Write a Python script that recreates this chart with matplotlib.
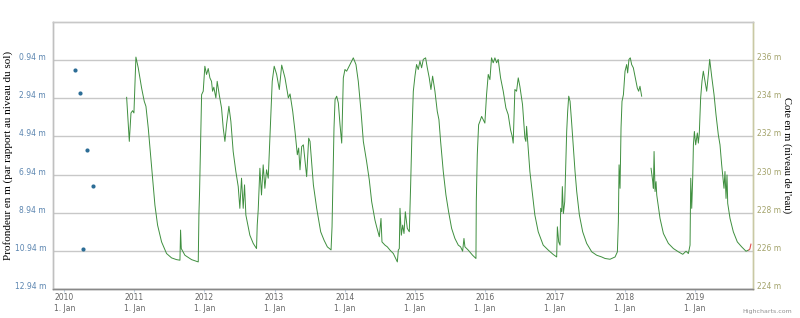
import numpy as np
import pandas as pd
import matplotlib
matplotlib.use('Agg')
from matplotlib import pyplot as plt
import matplotlib.dates as mdates
from datetime import datetime, timedelta

# points de profondeur (axe gauche), date en annee decimale
prof_t = [2010.148, 2010.224, 2010.320, 2010.405, 2010.262]
prof_v = [1.48, 2.67, 5.63, 7.52, 10.84]

# cote du niveau d'eau (axe droit), nan = trou dans la serie
cote_t = [2010.890, 2010.928, 2010.952, 2010.975, 2010.994, 2011.023, 2011.056, 2011.104, 2011.142, 2011.166,
          2011.199, 2011.232, 2011.261, 2011.294, 2011.332, 2011.389, 2011.460, 2011.532, 2011.603, 2011.651,
          2011.660, 2011.670, 2011.722, 2011.817, 2011.912, 2011.922, 2011.931, 2011.945, 2011.960, 2011.983,
          2012.007, 2012.031, 2012.055, 2012.079, 2012.102, 2012.117, 2012.135, 2012.164, 2012.183, 2012.212,
          2012.245, 2012.269, 2012.293, 2012.316, 2012.350, 2012.378, 2012.411, 2012.449, 2012.483, 2012.506,
          2012.530, 2012.554, 2012.573, 2012.592,
          2012.649, 2012.697, 2012.744, 2012.754, 2012.768, 2012.792, 2012.815, 2012.839, 2012.863, 2012.887,
          2012.911, 2012.934, 2012.968, 2012.996, 2013.029, 2013.067, 2013.101, 2013.148, 2013.196, 2013.220,
          2013.258, 2013.291, 2013.324, 2013.343, 2013.362, 2013.386, 2013.410, 2013.434, 2013.457, 2013.486,
          2013.505, 2013.553, 2013.600, 2013.657, 2013.705, 2013.752, 2013.805, 2013.819, 2013.833, 2013.847,
          2013.862, 2013.885, 2013.909, 2013.933, 2013.957, 2013.980, 2014.004, 2014.028, 2014.052, 2014.076,
          2014.099, 2014.123, 2014.161, 2014.194, 2014.233, 2014.266, 2014.313, 2014.351, 2014.385, 2014.432,
          2014.456, 2014.494, 2014.518, 2014.532, 2014.575, 2014.608,
          2014.646, 2014.694, 2014.751, 2014.765, 2014.779, 2014.789, 2014.808, 2014.827, 2014.846, 2014.865,
          2014.893, 2014.922, 2014.941, 2014.960, 2014.979, 2015.003, 2015.026, 2015.050, 2015.074, 2015.098,
          2015.122, 2015.155, 2015.179, 2015.207, 2015.231, 2015.255, 2015.288, 2015.321, 2015.345, 2015.369,
          2015.407, 2015.445, 2015.483, 2015.526, 2015.573, 2015.597, 2015.621, 2015.654, 2015.683, 2015.702,
          2015.716, 2015.763, 2015.825, 2015.873, 2015.878, 2015.892, 2015.911, 2015.930, 2015.954, 2015.977,
          2016.001, 2016.025, 2016.049, 2016.073, 2016.096, 2016.120, 2016.144, 2016.168, 2016.191, 2016.225,
          2016.263, 2016.301, 2016.334, 2016.367, 2016.391, 2016.405, 2016.429, 2016.453, 2016.477, 2016.500,
          2016.538, 2016.572, 2016.586, 2016.596,
          2016.643, 2016.681, 2016.714, 2016.762, 2016.833, 2016.905, 2016.976, 2017.023, 2017.033, 2017.052,
          2017.071, 2017.080, 2017.095, 2017.104, 2017.119, 2017.138, 2017.152, 2017.166, 2017.180, 2017.195,
          2017.214, 2017.237, 2017.261, 2017.285, 2017.309, 2017.347, 2017.394, 2017.451, 2017.523, 2017.594,
          2017.665, 2017.713, 2017.784, 2017.856, 2017.889, 2017.903, 2017.913, 2017.927, 2017.941, 2017.955,
          2017.975, 2017.998, 2018.022, 2018.036, 2018.055, 2018.074, 2018.093, 2018.117, 2018.146, 2018.174,
          2018.193, 2018.212, 2018.236,
          2018.300,
          2018.370, 2018.394, 2018.403, 2018.413, 2018.427, 2018.441, 2018.451, 2018.498, 2018.546, 2018.617,
          2018.689, 2018.760, 2018.822, 2018.869, 2018.902, 2018.926, 2018.936, 2018.950, 2018.964, 2018.974,
          2018.988, 2019.007, 2019.031, 2019.045, 2019.059, 2019.078, 2019.097, 2019.116, 2019.140, 2019.164,
          2019.188, 2019.207, 2019.235, 2019.269, 2019.297, 2019.330, 2019.354, 2019.378, 2019.411, 2019.425,
          2019.440, 2019.454, 2019.464, 2019.497, 2019.544, 2019.601, 2019.663, 2019.725, 2019.758]
cote_v = [234.05, 231.74, 233.23, 233.35, 233.23, 236.16, 235.60, 234.54, 233.84, 233.58,
          232.44, 231.04, 229.81, 228.40, 227.35, 226.47, 225.86, 225.63, 225.54, 225.51,
          227.09, 226.12, 225.77, 225.54, 225.42, 227.96, 229.11, 231.56, 234.19, 234.37,
          235.68, 235.25, 235.56, 235.07, 234.89, 234.37, 234.58, 234.02, 234.89, 234.19,
          233.49, 232.44, 231.74, 232.61, 233.58, 232.79, 231.21, 230.16, 229.37, 228.23,
          229.81, 228.23, 229.46, 227.88,
          226.82, 226.39, 226.12, 227.35, 228.14, 230.33, 228.93, 230.51, 229.28, 230.25,
          229.81, 231.91, 234.89, 235.68, 235.25, 234.46, 235.74, 235.07, 234.02, 234.23,
          233.32, 232.26, 231.04, 231.39, 230.25, 231.47, 231.56, 230.68, 229.89, 231.91,
          231.74, 229.46, 228.23, 227.00, 226.56, 226.21, 226.05, 227.26, 229.81, 232.44,
          233.93, 234.11, 233.75, 232.61, 231.65, 235.07, 235.51, 235.42, 235.60, 235.77,
          235.95, 236.12, 235.77, 234.89, 233.32, 231.74, 230.68, 229.72, 228.58, 227.61,
          227.26, 226.74, 227.70, 226.47, 226.30, 226.21,
          226.04, 225.86, 225.42, 226.04, 226.12, 228.23, 226.82, 227.35, 226.91, 228.05,
          227.18, 227.00, 229.46, 232.26, 234.37, 235.16, 235.77, 235.51, 235.95, 235.60,
          236.04, 236.12, 235.60, 235.07, 234.46, 235.16, 234.37, 233.32, 232.88, 231.74,
          230.16, 228.93, 228.05, 227.18, 226.65, 226.47, 226.30, 226.21, 225.98, 226.65,
          226.21, 226.04, 225.77, 225.60, 228.58, 231.04, 232.61, 232.79, 233.05, 232.88,
          232.70, 234.19, 235.25, 234.98, 236.12, 235.86, 236.12, 235.86, 236.04, 235.07,
          234.37, 233.49, 233.14, 232.35, 232.00, 231.65, 234.46, 234.37, 235.07, 234.63,
          233.67, 231.91, 231.74, 232.53,
          230.16, 228.93, 227.88, 227.00, 226.30, 226.04, 225.81, 225.68, 227.26, 226.47,
          226.30, 228.23, 228.05, 229.37, 227.96, 228.58, 230.51, 232.26, 233.32, 234.11,
          233.84, 232.70, 231.39, 230.16, 229.11, 227.88, 227.00, 226.39, 225.95, 225.77,
          225.68, 225.60, 225.56, 225.68, 225.95, 227.53, 230.51, 229.28, 232.44, 233.84,
          234.19, 235.42, 235.77, 235.33, 236.04, 236.12, 235.77, 235.60, 235.07, 234.54,
          234.37, 234.63, 234.11,
          np.nan,
          230.33, 229.63, 229.28, 231.21, 229.11, 229.63, 228.93, 227.70, 226.91, 226.39,
          226.12, 225.95, 225.82, 225.98, 225.86, 226.30, 229.81, 228.23, 229.81, 231.56,
          232.26, 231.56, 232.18, 231.65, 232.18, 234.02, 234.89, 235.42, 234.89, 234.37,
          235.25, 236.04, 235.16, 234.19, 233.14, 232.09, 231.56, 230.51, 229.28, 230.16,
          228.75, 229.98, 228.49, 227.70, 227.00, 226.47, 226.21, 225.98, 226.04]

# petit segment rouge en fin de serie
fin_t = [2019.765, 2019.780, 2019.795]
fin_v = [226.04, 226.10, 226.35]

left_ticks = [0.94, 2.94, 4.94, 6.94, 8.94, 10.94, 12.94]
right_ticks = [224, 226, 228, 230, 232, 234, 236]
years = list(range(2010, 2020))


def to_date(t):
    y = int(t)
    return datetime(y, 1, 1) + timedelta(days=(t - y) * 365.25)


fig = plt.figure(figsize=(8, 3.18), dpi=100)
ax = fig.add_axes([53 / 800, 1 - 289 / 318, 700.3 / 800, 267 / 318])
ax2 = ax.twinx()

ax.scatter([to_date(t) for t in prof_t], prof_v, s=9, color='#2c6d96', zorder=4, linewidths=0)
ax2.plot([to_date(t) for t in cote_t], cote_v, color='#3f8f3f', lw=0.7, zorder=3)
ax2.plot([to_date(t) for t in fin_t], fin_v, color='#e05050', lw=0.8, zorder=3)

ax.set_ylim(12.94, -1.06)
ax2.set_ylim(224, 238.0)
ax.set_xlim(to_date(2009.839), to_date(2019.829))

ax.set_yticks(left_ticks)
ax.set_yticklabels(['{:.2f} m'.format(v) for v in left_ticks])
ax2.set_yticks(right_ticks)
ax2.set_yticklabels(['{} m'.format(v) for v in right_ticks])
ax.grid(axis='y', color='#c8c8c8', lw=1)
ax.set_axisbelow(True)

ax.set_xticks([datetime(y, 1, 1) for y in years])
ax.set_xticklabels(['{}\n1. Jan'.format(y) for y in years])

ax.tick_params(axis='y', length=0, pad=5, labelsize=5.5, labelcolor='#5b85b0')
ax2.tick_params(axis='y', length=0, pad=3, labelsize=5.5, labelcolor='#a3a36b')
ax.tick_params(axis='x', length=2, color='#c0d0e0', pad=1, labelsize=5.5, labelcolor='#666666')
for lab in ax.get_yticklabels() + ax2.get_yticklabels():
    lab.set_verticalalignment('baseline')

for a in (ax, ax2):
    a.spines['top'].set_color('#c8c8c8')
    a.spines['left'].set_color('#c0c0c0')
    a.spines['right'].set_color('#c9c9a4')
    a.spines['bottom'].set_color('#888888')
    for s in a.spines.values():
        s.set_linewidth(1)

ax.set_ylabel('Profondeur en m (par rapport au niveau du sol)', family='Liberation Serif',
              fontsize=8, color='black')
ax.yaxis.set_label_coords(-0.057, 0.5)
ax2.set_ylabel("Cote en m (niveau de l'eau)", family='Liberation Serif', fontsize=7.7,
               color='black', rotation=270, va='center')
ax2.yaxis.set_label_coords(1.048, 0.5)

fig.text(0.99, 0.012, 'Highcharts.com', ha='right', va='bottom', fontsize=4.5, color='#909090')

fig.savefig('out.png', dpi=100)
